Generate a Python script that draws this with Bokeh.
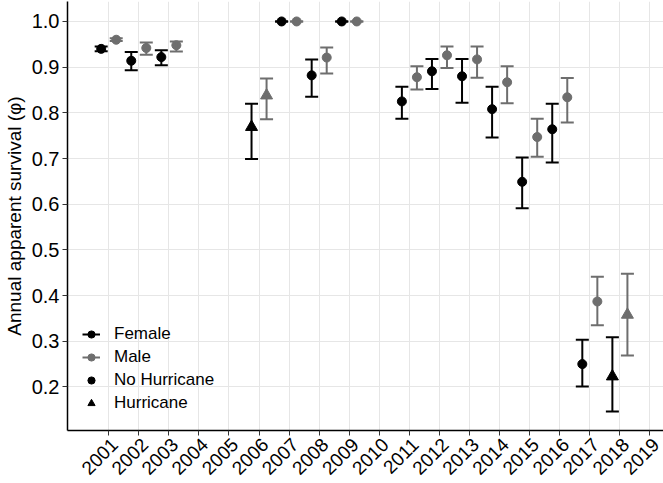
import math
from bokeh.plotting import figure
from bokeh.models import (ColumnDataSource, Whisker, TeeHead, FixedTicker, Legend, LegendItem,
                          NumeralTickFormatter, CustomJSTickFormatter, LinearAxis, Range1d)
from bokeh.embed import file_html
from bokeh.resources import INLINE

# ---- data ----
years = [2001, 2002, 2003, 2006, 2007, 2008, 2009, 2011, 2012, 2013, 2014, 2015, 2016, 2017, 2018]
hurricane = [0, 0, 0, 1, 0, 0, 0, 0, 0, 0, 0, 0, 0, 0, 1]
female_phi = [0.940, 0.914, 0.922, 0.769, 1.000, 0.882, 1.000, 0.825, 0.891, 0.880, 0.808, 0.649, 0.764, 0.250, 0.223]
female_lo = [0.935, 0.893, 0.904, 0.699, 1.000, 0.835, 1.000, 0.787, 0.852, 0.822, 0.746, 0.591, 0.691, 0.201, 0.146]
female_hi = [0.945, 0.933, 0.937, 0.820, 1.000, 0.917, 1.000, 0.857, 0.918, 0.918, 0.857, 0.702, 0.820, 0.303, 0.309]
male_phi = [0.960, 0.942, 0.948, 0.838, 1.000, 0.921, 1.000, 0.878, 0.926, 0.917, 0.867, 0.747, 0.834, 0.387, 0.358]
male_lo = [0.957, 0.927, 0.934, 0.786, 1.000, 0.886, 1.000, 0.851, 0.898, 0.877, 0.821, 0.704, 0.779, 0.335, 0.269]
male_hi = [0.963, 0.954, 0.956, 0.875, 1.000, 0.943, 1.000, 0.902, 0.945, 0.945, 0.902, 0.787, 0.876, 0.441, 0.448]
x_ticks = list(range(2001, 2020))
y_ticks = [0.2, 0.3, 0.4, 0.5, 0.6, 0.7, 0.8, 0.9, 1.0]
y_title = "Annual apparent survival (\u03c6)"

FEMALE = "#000000"
MALE = "#6e6e6e"
FONT = "Liberation Sans"
DODGE = 0.25
NAN = float("nan")
X0, X1 = 1999.63, 2019.45
LABEL_SHIFT = 0.2  # rotated labels hang slightly right of their tick (hjust=1, vjust=1 look)

def make_src(offset, phi, lo, hi):
    return ColumnDataSource(dict(
        x=[y + offset for y in years],
        phi=phi, lo=lo, hi=hi,
        marker=["triangle" if h else "circle" for h in hurricane],
        size=[12 if h else 9 for h in hurricane],
    ))

src_f = make_src(-DODGE, female_phi, female_lo, female_hi)
src_m = make_src(DODGE, male_phi, male_lo, male_hi)

p = figure(width=663, height=483, output_backend="svg", toolbar_location=None,
           x_range=(X0, X1), y_range=(0.1046, 1.0437),
           min_border_left=66, min_border_right=0, min_border_top=1, min_border_bottom=52)
p.outline_line_color = None
p.background_fill_color = "white"
p.extra_x_ranges = {"lab": Range1d(X0 - LABEL_SHIFT, X1 - LABEL_SHIFT)}

for src, col in ((src_f, FEMALE), (src_m, MALE)):
    w = Whisker(source=src, base="x", upper="hi", lower="lo", dimension="height",
                line_color=col, line_width=2, level="glyph",
                upper_head=TeeHead(size=13, line_color=col, line_width=2),
                lower_head=TeeHead(size=13, line_color=col, line_width=2))
    p.add_layout(w)
    p.scatter("x", "phi", source=src, marker="marker", size="size",
              fill_color=col, line_color=col, line_width=1)

# legend proxies (no visible data)
lf = p.line(x=[NAN], y=[NAN], line_color=FEMALE, line_width=2)
cf = p.scatter(x=[NAN], y=[NAN], marker="circle", fill_color=FEMALE, line_color=FEMALE)
lm = p.line(x=[NAN], y=[NAN], line_color=MALE, line_width=2)
cm = p.scatter(x=[NAN], y=[NAN], marker="circle", fill_color=MALE, line_color=MALE)
cn = p.scatter(x=[NAN], y=[NAN], marker="circle", fill_color="black", line_color="black")
th = p.scatter(x=[NAN], y=[NAN], marker="triangle", fill_color="black", line_color="black")
legend = Legend(items=[
    LegendItem(label="Female", renderers=[lf, cf]),
    LegendItem(label="Male", renderers=[lm, cm]),
    LegendItem(label="No Hurricane", renderers=[cn]),
    LegendItem(label="Hurricane", renderers=[th]),
], location=(15, 17), padding=0, margin=0, spacing=3,
    glyph_width=18, glyph_height=20, label_standoff=14,
    label_text_font=FONT, label_text_font_size="17px", label_text_color="black",
    border_line_color=None, background_fill_alpha=0)
p.add_layout(legend, "center")

p.xaxis.ticker = FixedTicker(ticks=x_ticks)
p.yaxis.ticker = FixedTicker(ticks=y_ticks)
p.yaxis.formatter = NumeralTickFormatter(format="0.0")
p.xaxis.formatter = CustomJSTickFormatter(code="return ''")
p.yaxis.axis_label = y_title

for ax in (p.xaxis[0], p.yaxis[0]):
    ax.axis_line_color = "black"
    ax.axis_line_width = 1.5
    ax.major_tick_line_color = "#333333"
    ax.major_tick_line_width = 1
    ax.major_tick_in = 0
    ax.major_tick_out = 5
    ax.minor_tick_line_color = None
    ax.major_label_text_font = FONT
    ax.major_label_text_font_size = "20px"
    ax.major_label_text_color = "black"
    ax.major_label_standoff = 3
    ax.axis_label_text_font = FONT
    ax.axis_label_text_font_size = "19px"
    ax.axis_label_text_font_style = "normal"
    ax.axis_label_text_color = "black"
p.yaxis.axis_label_standoff = 4
p.xaxis.major_label_text_font_size = "0px"
p.xaxis.major_label_standoff = 0

# year labels: separate label-only axis, rotated 45 degrees
lab_axis = LinearAxis(x_range_name="lab", ticker=FixedTicker(ticks=x_ticks),
                      formatter=NumeralTickFormatter(format="0"),
                      axis_line_color=None, major_tick_line_color=None, minor_tick_line_color=None,
                      major_tick_in=0, major_tick_out=0, major_label_standoff=6,
                      major_label_orientation=math.pi / 4,
                      major_label_text_font=FONT, major_label_text_font_size="19px",
                      major_label_text_color="black")
p.add_layout(lab_axis, "below")

p.grid.grid_line_color = "#e6e6e6"
p.grid.grid_line_width = 1

open("out.html", "w").write(file_html(p, INLINE))
